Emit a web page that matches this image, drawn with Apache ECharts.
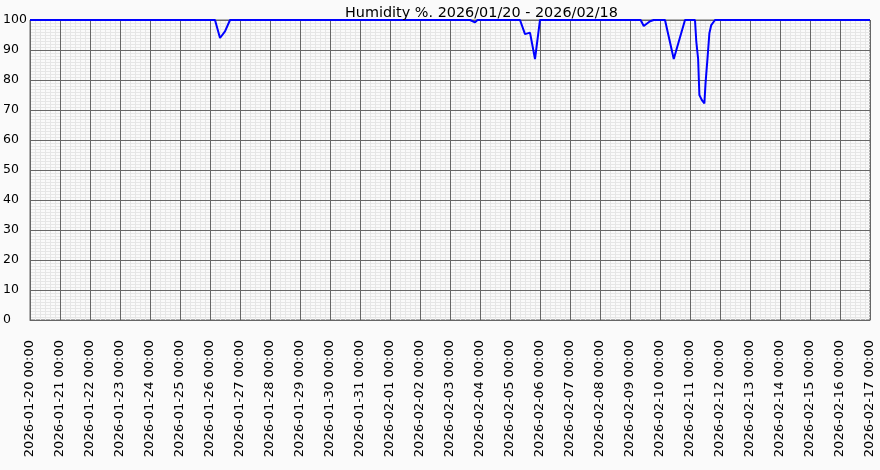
<!DOCTYPE html>
<html>
<head>
<meta charset="utf-8">
<script src="https://cdn.jsdelivr.net/npm/echarts@6/dist/echarts.min.js"></script>
<style>
html,body{margin:0;padding:0;background:#fafafa;}
#chart{width:880px;height:470px;}
</style>
</head>
<body>
<div id="chart"></div>
<script>
const titleText = 'Humidity %. 2026/01/20 - 2026/02/18';
const startTime = '2026-01-20 00:00';
const endTime = '2026-02-17 00:00';
const yTicks = [0,10,20,30,40,50,60,70,80,90,100];

const times = [
  '2026-01-20 00:00',
  '2026-01-26 04:00','2026-01-26 08:00','2026-01-26 12:00','2026-01-26 16:00',
  '2026-02-03 16:00','2026-02-03 20:00','2026-02-03 22:00',
  '2026-02-05 08:00','2026-02-05 12:00','2026-02-05 16:00','2026-02-05 17:30','2026-02-05 20:00','2026-02-06 00:00',
  '2026-02-09 08:30','2026-02-09 11:00','2026-02-09 16:00','2026-02-09 19:00',
  '2026-02-10 04:00','2026-02-10 11:00','2026-02-10 20:00',
  '2026-02-11 04:00','2026-02-11 05:00','2026-02-11 06:30','2026-02-11 07:30','2026-02-11 09:30','2026-02-11 11:30',
  '2026-02-11 12:30','2026-02-11 14:00','2026-02-11 15:30','2026-02-11 17:00','2026-02-11 20:00',
  '2026-02-17 00:00'
];
const humidity = [
  100,
  100, 94, 96.2, 100,
  100, 99.2, 100,
  100, 95.3, 95.8, 95.5, 87, 100,
  100, 98, 99.6, 100,
  100, 87, 100,
  100, 93, 87, 75, 73.3, 72.2,
  79.4, 87.2, 95.6, 98.3, 100,
  100
];

function toUTC(s){
  const [d,t] = s.split(' ');
  const [Y,M,D] = d.split('-').map(Number);
  const [h,m] = t.split(':').map(Number);
  return Date.UTC(Y,M-1,D,h,m);
}
const t0 = toUTC(startTime);
const hoursOf = s => (toUTC(s) - t0) / 3600000;
const seriesData = times.map((t,i) => [hoursOf(t), humidity[i]]);
const pad = n => String(n).padStart(2,'0');
function fmtHours(h){
  const d = new Date(t0 + h*3600000);
  return d.getUTCFullYear()+'-'+pad(d.getUTCMonth()+1)+'-'+pad(d.getUTCDate())+' '+pad(d.getUTCHours())+':'+pad(d.getUTCMinutes());
}

const font = 'DejaVu Sans';
const xMax = hoursOf(endTime);
const minorStyle = {color:'#e6e6e6',width:1};
const majorStyle = {color:'#666',width:1};
const chart = echarts.init(document.getElementById('chart'));
chart.setOption({
  backgroundColor:'#fafafa',
  animation:false,
  title:{
    text:titleText, left:340, top:1,
    textStyle:{fontFamily:font,fontSize:14.4,fontWeight:'normal',color:'#000'}
  },
  grid:{left:30,right:10,top:20,bottom:150,show:true,backgroundColor:'#fafafa',borderColor:'#666',borderWidth:1},
  xAxis:[{
    type:'value', min:0, max:xMax, interval:24, z:0,
    axisLine:{show:false}, axisTick:{show:false},
    minorTick:{show:false,splitNumber:6},
    minorSplitLine:{show:true,lineStyle:minorStyle},
    splitLine:{show:false},
    axisLabel:{rotate:90,margin:20,fontFamily:font,fontSize:13,color:'#000',
      showMinLabel:true,showMaxLabel:true,formatter:v=>fmtHours(v)}
  },{
    type:'value', min:0, max:xMax, interval:24, z:1, position:'bottom',
    axisLine:{show:true,lineStyle:majorStyle}, axisTick:{show:false},
    splitLine:{show:true,lineStyle:majorStyle},
    axisLabel:{show:false}
  }],
  yAxis:[{
    type:'value', min:yTicks[0], max:yTicks[yTicks.length-1], interval:10, z:0,
    axisLine:{show:false}, axisTick:{show:false},
    minorTick:{show:false,splitNumber:10},
    minorSplitLine:{show:true,lineStyle:minorStyle},
    splitLine:{show:false},
    axisLabel:{align:'left',margin:27,fontFamily:font,fontSize:12.5,color:'#000'}
  },{
    type:'value', min:yTicks[0], max:yTicks[yTicks.length-1], interval:10, z:1, position:'left',
    axisLine:{show:true,lineStyle:majorStyle}, axisTick:{show:false},
    splitLine:{show:true,lineStyle:majorStyle},
    axisLabel:{show:false}
  }],
  series:[{
    type:'line', data:seriesData, showSymbol:false, clip:false,
    xAxisIndex:0, yAxisIndex:0,
    lineStyle:{color:'#0000ff',width:2}, z:5
  }]
});
</script>
</body>
</html>
